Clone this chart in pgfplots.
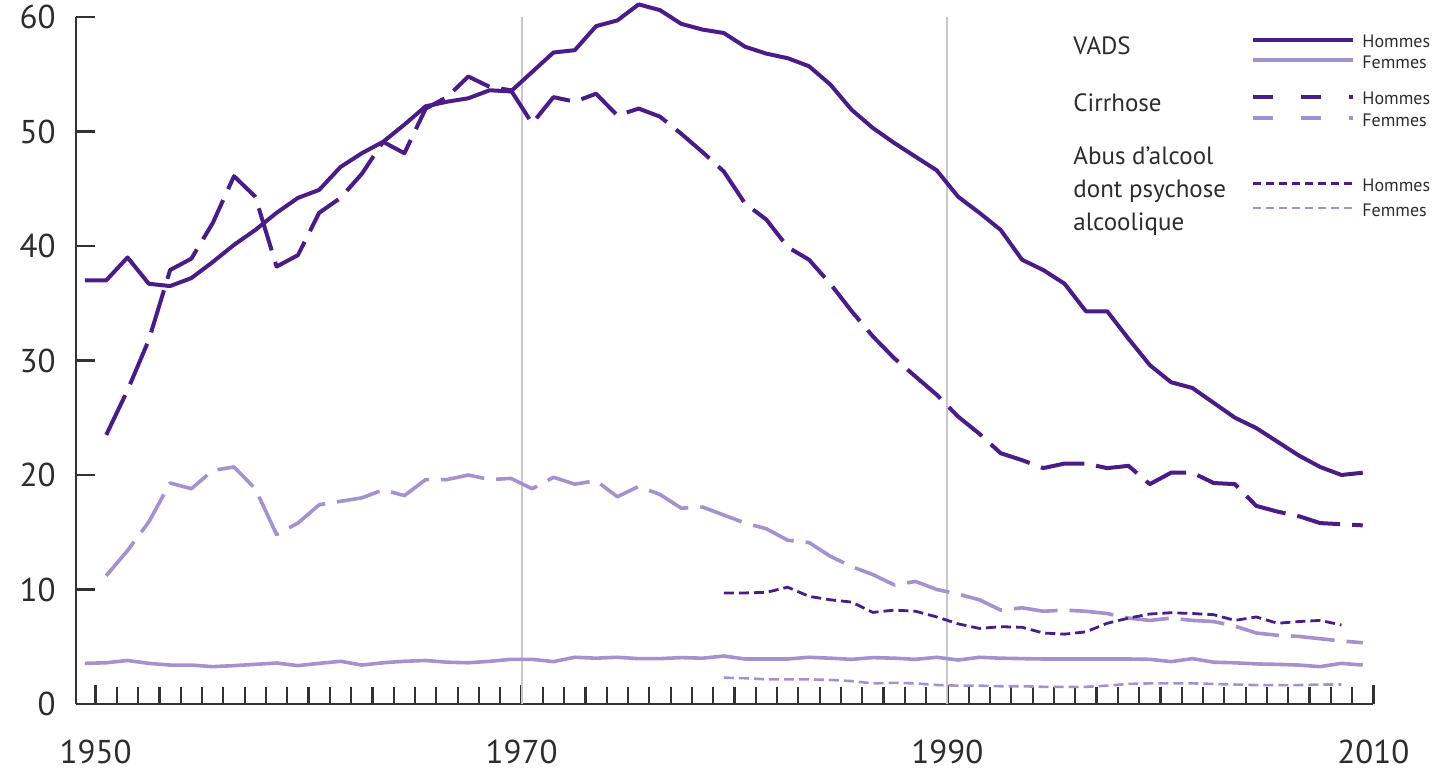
\documentclass[border=0pt]{standalone}
\usepackage{fontspec}
\setmainfont{PT Sans}
\usepackage{pgfplots}
\pgfplotsset{compat=1.18}
\definecolor{dark}{RGB}{75,28,135}
\definecolor{light}{RGB}{166,145,208}
\definecolor{axgray}{RGB}{50,50,50}
\definecolor{txt}{RGB}{45,45,45}
\definecolor{vgray}{RGB}{200,200,204}
\begin{document}
\begin{tikzpicture}
\path[use as bounding box] (-38pt,-35pt) rectangle (682.5pt,352pt);
\begin{axis}[
  at={(0,0)}, anchor=south west,
  scale only axis, width=648.7pt, height=343.5pt,
  xmin=1949.58, xmax=2010.5, ymin=0, ymax=60,
  axis x line=bottom, axis y line=left,
  axis line style={-, line width=1.3pt, color=axgray},
  tick align=inside,
  xtick={1950.5,1970.5,1990.5,2010.5},
  xticklabels={1950,1970,1990,2010},
  minor x tick num=19,
  ytick={0,10,20,30,40,50,60},
  yticklabels={0,10,20,30,40,50,60},
  major tick length=9.5pt, minor tick length=8.5pt,
  every tick/.style={axgray, line width=1.1pt},
  clip=false,
  ticklabel style={font=\fontsize{16.5}{16.5}\selectfont, text=txt},
  xticklabel style={anchor=north, inner sep=0pt, yshift=-18pt},
  yticklabel style={anchor=east, inner sep=0pt, xshift=-10pt},
  /pgf/number format/assume math mode=true,
]
% reference lines
\addplot[vgray, line width=1pt, forget plot] coordinates {(1970.5,0) (1970.5,60)};
\addplot[vgray, line width=1pt, forget plot] coordinates {(1990.5,0) (1990.5,60)};

% VADS Femmes
\addplot[light, line width=1.8pt, line join=round] coordinates {
(1950,3.55) (1951,3.6) (1952,3.8) (1953,3.55) (1954,3.4) (1955,3.4) (1956,3.26) (1957,3.35) (1958,3.46) (1959,3.58)
(1960,3.35) (1961,3.55) (1962,3.73) (1963,3.4) (1964,3.6) (1965,3.73) (1966,3.8) (1967,3.65) (1968,3.6) (1969,3.73)
(1970,3.9) (1971,3.9) (1972,3.7) (1973,4.08) (1974,4.0) (1975,4.08) (1976,3.96) (1977,3.96) (1978,4.05) (1979,4.0)
(1980,4.19) (1981,3.93) (1982,3.93) (1983,3.93) (1984,4.08) (1985,4.0) (1986,3.9) (1987,4.05) (1988,4.0) (1989,3.9)
(1990,4.08) (1991,3.84) (1992,4.08) (1993,4.0) (1994,3.96) (1995,3.93) (1996,3.93) (1997,3.93) (1998,3.93) (1999,3.93)
(2000,3.9) (2001,3.7) (2002,3.96) (2003,3.65) (2004,3.6) (2005,3.5) (2006,3.46) (2007,3.4) (2008,3.26) (2009,3.55) (2010,3.4)
};

% Cirrhose Femmes
\addplot[light, line width=1.8pt, line join=round, dash pattern=on 22pt off 6pt] coordinates {
(1951,11.2) (1952,13.4) (1953,15.9) (1954,19.3) (1955,18.8) (1956,20.4) (1957,20.7) (1958,18.8) (1959,14.8)
(1960,15.8) (1961,17.4) (1962,17.7) (1963,18.0) (1964,18.7) (1965,18.2) (1966,19.6) (1967,19.6) (1968,20.0) (1969,19.6)
(1970,19.7) (1971,18.8) (1972,19.8) (1973,19.2) (1974,19.5) (1975,18.1) (1976,19.0) (1977,18.3) (1978,17.1) (1979,17.2)
(1980,16.5) (1981,15.8) (1982,15.3) (1983,14.3) (1984,14.1) (1985,12.9) (1986,12.0) (1987,11.3) (1988,10.4) (1989,10.7)
(1990,10.0) (1991,9.6) (1992,9.1) (1993,8.2) (1994,8.4) (1995,8.1) (1996,8.2) (1997,8.1) (1998,7.9) (1999,7.5)
(2000,7.3) (2001,7.5) (2002,7.3) (2003,7.2) (2004,6.8) (2005,6.2) (2006,6.0) (2007,5.9) (2008,5.7) (2009,5.5) (2010,5.35)
};

% Abus Femmes
\addplot[light, line width=1.3pt, dash pattern=on 5pt off 2.5pt] coordinates {
(1980,2.3) (1981,2.25) (1982,2.15) (1983,2.15) (1984,2.15) (1985,2.1) (1986,2.0) (1987,1.8) (1988,1.85) (1989,1.8)
(1990,1.66) (1991,1.6) (1992,1.6) (1993,1.55) (1994,1.55) (1995,1.5) (1996,1.5) (1997,1.5) (1998,1.6) (1999,1.75)
(2000,1.8) (2001,1.8) (2002,1.8) (2003,1.75) (2004,1.7) (2005,1.65) (2006,1.65) (2007,1.65) (2008,1.7) (2009,1.7)
};

% Abus Hommes
\addplot[dark, line width=1.4pt, dash pattern=on 5pt off 2.5pt] coordinates {
(1980,9.7) (1981,9.7) (1982,9.75) (1983,10.2) (1984,9.4) (1985,9.1) (1986,8.9) (1987,8.0) (1988,8.2) (1989,8.1)
(1990,7.6) (1991,7.0) (1992,6.6) (1993,6.75) (1994,6.7) (1995,6.2) (1996,6.1) (1997,6.3) (1998,7.05) (1999,7.5)
(2000,7.86) (2001,7.97) (2002,7.9) (2003,7.8) (2004,7.3) (2005,7.6) (2006,7.05) (2007,7.2) (2008,7.3) (2009,6.9)
};

% Cirrhose Hommes
\addplot[dark, line width=2pt, line join=round, dash pattern=on 22pt off 6pt] coordinates {
(1951,23.5) (1952,27.4) (1953,31.8) (1954,37.9) (1955,38.9) (1956,42.0) (1957,46.1) (1958,44.3) (1959,38.2)
(1960,39.2) (1961,42.9) (1962,44.2) (1963,46.3) (1964,49.1) (1965,48.1) (1966,52.0) (1967,53.0) (1968,54.8) (1969,53.9)
(1970,53.6) (1971,50.7) (1972,53.0) (1973,52.6) (1974,53.3) (1975,51.4) (1976,52.0) (1977,51.3) (1978,49.8) (1979,48.2)
(1980,46.5) (1981,43.7) (1982,42.3) (1983,39.9) (1984,38.8) (1985,36.7) (1986,34.3) (1987,32.1) (1988,30.2) (1989,28.6)
(1990,27.0) (1991,25.1) (1992,23.6) (1993,21.9) (1994,21.3) (1995,20.6) (1996,21.0) (1997,21.0) (1998,20.6) (1999,20.8)
(2000,19.2) (2001,20.2) (2002,20.2) (2003,19.3) (2004,19.2) (2005,17.3) (2006,16.8) (2007,16.4) (2008,15.8) (2009,15.7) (2010,15.6)
};

% VADS Hommes
\addplot[dark, line width=2pt, line join=round] coordinates {
(1950,37.0) (1951,37.0) (1952,39.0) (1953,36.7) (1954,36.5) (1955,37.2) (1956,38.6) (1957,40.1) (1958,41.4) (1959,42.9)
(1960,44.2) (1961,44.9) (1962,46.9) (1963,48.1) (1964,49.1) (1965,50.6) (1966,52.2) (1967,52.6) (1968,52.9) (1969,53.6)
(1970,53.5) (1971,55.2) (1972,56.9) (1973,57.1) (1974,59.2) (1975,59.7) (1976,61.1) (1977,60.6) (1978,59.4) (1979,58.9)
(1980,58.6) (1981,57.4) (1982,56.8) (1983,56.4) (1984,55.7) (1985,54.1) (1986,51.9) (1987,50.3) (1988,49.0) (1989,47.8)
(1990,46.6) (1991,44.3) (1992,42.9) (1993,41.4) (1994,38.8) (1995,37.9) (1996,36.7) (1997,34.3) (1998,34.3) (1999,31.9)
(2000,29.6) (2001,28.1) (2002,27.6) (2003,26.3) (2004,25.0) (2005,24.1) (2006,22.9) (2007,21.7) (2008,20.7) (2009,20.0) (2010,20.2)
};
\end{axis}

% legend (pixel-like coordinates of the reference)
\begin{scope}[x=0.5pt, y=-0.5pt, shift={(-76,-704)}]
\tikzset{grp/.style={anchor=base west, inner sep=0pt, text=txt, font=\fontsize{12.5}{12.5}\selectfont},
         sx/.style={anchor=west, inner sep=0pt, text=txt, font=\fontsize{9}{9}\selectfont}}
\node[grp] at (1073,55) {VADS};
\node[grp] at (1073,112) {Cirrhose};
\node[grp] at (1073,165) {Abus d'alcool};
\node[grp] at (1073,198) {dont psychose};
\node[grp] at (1073,231) {alcoolique};
\draw[dark, line width=2.2pt] (1253,40) -- (1353,40);
\draw[light, line width=2pt] (1253,60) -- (1353,60);
\draw[dark, line width=2.2pt, dash pattern=on 10pt off 14pt] (1253,97) -- (1353,97);
\draw[light, line width=2pt, dash pattern=on 10pt off 14pt] (1253,118) -- (1353,118);
\draw[dark, line width=1.5pt, dash pattern=on 4pt off 2.5pt] (1253,184) -- (1353,184);
\draw[light, line width=1.3pt, dash pattern=on 4pt off 2.5pt] (1253,208) -- (1353,208);
\node[sx] at (1362,41) {Hommes};
\node[sx] at (1362,62) {Femmes};
\node[sx] at (1362,98) {Hommes};
\node[sx] at (1362,120) {Femmes};
\node[sx] at (1362,185) {Hommes};
\node[sx] at (1362,210) {Femmes};
\end{scope}
\end{tikzpicture}
\end{document}
